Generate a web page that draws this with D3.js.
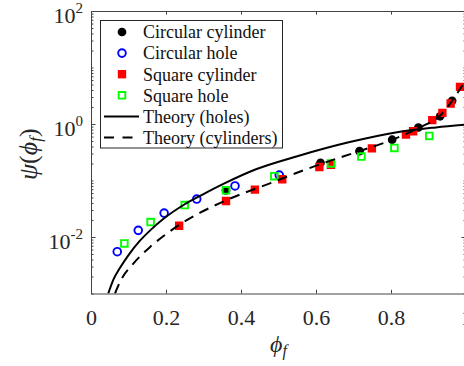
<!DOCTYPE html>
<html>
<head>
<meta charset="utf-8">
<script src="https://cdn.jsdelivr.net/npm/d3@7"></script>
<style>
body { margin: 0; background: #fff; }
svg { display: block; font-family: "Liberation Serif", "Times New Roman", serif; }
</style>
</head>
<body>
<div id="chart"></div>
<script>
// values
const phiTicks = [0, 0.2, 0.4, 0.6, 0.8, 1];
const psiMajor = [1e-2, 1, 1e2];
const psiLabels = ["10", "10", "10"];
const psiExps = ["-2", "0", "2"];

const circCylPhi = [0.360, 0.612, 0.716, 0.803, 0.873, 0.931, 0.963];
const circCylPsi = [0.067, 0.206, 0.33, 0.527, 0.867, 1.37, 2.57];

const circHolePhi = [0.070, 0.126, 0.195, 0.282, 0.384, 0.502];
const circHolePsi = [0.0055, 0.0131, 0.0265, 0.047, 0.080, 0.125];

const sqCylPhi = [0.235, 0.360, 0.437, 0.510, 0.609, 0.640, 0.749, 0.840, 0.859, 0.910, 0.937, 0.959, 0.984];
const sqCylPsi = [0.0158, 0.0433, 0.069, 0.105, 0.173, 0.19, 0.37, 0.65, 0.745, 1.17, 1.57, 2.31, 4.55];

const sqHolePhi = [0.089, 0.159, 0.250, 0.360, 0.489, 0.640, 0.721, 0.809, 0.902];
const sqHolePsi = [0.0077, 0.0184, 0.0368, 0.067, 0.119, 0.20, 0.265, 0.377, 0.615];

// theory curves, sampled by eye along the drawn lines
const holesPhi = [0.046, 0.06, 0.077, 0.10, 0.13, 0.16, 0.195, 0.25, 0.30, 0.353, 0.44, 0.55, 0.69, 0.82, 0.92, 1.0];
const holesPsi = [0.001, 0.00178, 0.00282, 0.00479, 0.00851, 0.0135, 0.0214, 0.038, 0.0575, 0.087, 0.158, 0.269, 0.479, 0.724, 0.871, 0.977];

const cylPhi = [0.064, 0.08, 0.113, 0.157, 0.202, 0.246, 0.291, 0.371, 0.477, 0.566, 0.612, 0.716, 0.803, 0.873, 0.931, 0.963, 0.991];
const cylPsi = [0.001, 0.00174, 0.00339, 0.00661, 0.01148, 0.0182, 0.0269, 0.0479, 0.0891, 0.151, 0.195, 0.331, 0.525, 0.851, 1.41, 2.57, 4.9];

const legendNames = ["Circular cylinder", "Circular hole", "Square cylinder", "Square hole", "Theory (holes)", "Theory (cylinders)"];

const width = 464, height = 366;
const plot = { left: 91, right: 466, top: 11, bottom: 293.5 };
const axisColor = "#444";
const textColor = "#262626";
const serifFont = '"Liberation Serif", "Times New Roman", serif';

const x = d3.scaleLinear().domain([0, 1]).range([plot.left, plot.right]);
const y = d3.scaleLog().domain([1e-3, 1e2]).range([plot.bottom, plot.top]);

const svg = d3.select("#chart").append("svg")
	.attr("width", width)
	.attr("height", height)
	.attr("font-family", serifFont);

svg.append("defs").append("clipPath").attr("id", "clip")
	.append("rect")
	.attr("x", plot.left).attr("y", plot.top)
	.attr("width", plot.right - plot.left)
	.attr("height", plot.bottom - plot.top);

// minor ticks of the log axis (everything that is not a labelled decade)
const minorTicks = y.ticks().filter(t => !psiMajor.some(m => Math.abs(m - t) / m < 1e-9));

const axes = svg.append("g").attr("color", axisColor);

// d3 puts sans-serif on every axis group, override it
const serif = g => g.attr("font-family", serifFont).attr("font-size", null);

axes.append("g")
	.attr("transform", `translate(0,${plot.bottom})`)
	.call(d3.axisBottom(x).tickValues(phiTicks).tickFormat(d => String(d))
		.tickSizeInner(-3.7).tickSizeOuter(0).tickPadding(15.5))
	.call(serif)
	.call(g => g.selectAll("text").attr("font-size", 22).attr("fill", textColor)
		.attr("font-family", serifFont));

axes.append("g")
	.attr("transform", `translate(0,${plot.top})`)
	.call(d3.axisTop(x).tickValues(phiTicks).tickFormat("")
		.tickSizeInner(-3.7).tickSizeOuter(0));

[["left", plot.left, d3.axisLeft], ["right", plot.right, d3.axisRight]].forEach(([side, px, axisFn]) => {
	axes.append("g")
		.attr("class", "y-" + side)
		.attr("transform", `translate(${px},0)`)
		.call(axisFn(y).tickValues(psiMajor).tickFormat("")
			.tickSizeInner(-4.5).tickSizeOuter(0))
		.call(serif);
	axes.append("g")
		.attr("transform", `translate(${px},0)`)
		.call(axisFn(y).tickValues(minorTicks).tickFormat("")
			.tickSizeInner(-2.5).tickSizeOuter(0))
		.call(g => g.select(".domain").remove());
});

// 10^k labels on the left axis
const lbl = axes.select(".y-left").selectAll(".tick")
	.append("text")
	.attr("x", -8)
	.attr("y", 11)
	.attr("text-anchor", "end")
	.attr("fill", textColor)
	.attr("font-family", serifFont)
	.attr("font-size", 22);
lbl.append("tspan").text((d, i) => psiLabels[i]);
lbl.append("tspan")
	.attr("dy", -10)
	.attr("font-size", 15)
	.text((d, i) => psiExps[i]);

// axis titles
const xt = svg.append("text")
	.attr("x", (plot.left + plot.right) / 2)
	.attr("y", 352)
	.attr("text-anchor", "middle")
	.attr("fill", textColor)
	.attr("font-style", "italic");
xt.append("tspan").attr("font-size", 24).text("ϕ");
xt.append("tspan").attr("font-size", 16).attr("dy", 4).text("f");

const yt = svg.append("text")
	.attr("transform", `translate(37,${(plot.top + plot.bottom) / 2 + 2}) rotate(-90)`)
	.attr("text-anchor", "middle")
	.attr("fill", textColor)
	.attr("font-size", 26);
yt.append("tspan").attr("font-style", "italic").text("ψ");
yt.append("tspan").text("(");
yt.append("tspan").attr("font-style", "italic").text("ϕ");
yt.append("tspan").attr("font-style", "italic").attr("font-size", 17).attr("dy", 4).text("f");
yt.append("tspan").attr("dy", -4).text(")");

// markers
const series = [
	{ phi: circCylPhi, psi: circCylPsi, type: d3.symbolCircle, size: 60, fill: "#000", stroke: "none" },
	{ phi: circHolePhi, psi: circHolePsi, type: d3.symbolCircle, size: 46, fill: "none", stroke: "#0000ff" },
	{ phi: sqCylPhi, psi: sqCylPsi, type: d3.symbolSquare, size: 70, fill: "#ff0000", stroke: "none" },
	{ phi: sqHolePhi, psi: sqHolePsi, type: d3.symbolSquare, size: 44, fill: "none", stroke: "#00ff00" }
];

const marks = svg.append("g").attr("clip-path", "url(#clip)");

series.forEach(s => {
	marks.append("g").selectAll("path")
		.data(d3.zip(s.phi, s.psi))
		.enter()
		.append("path")
		.attr("transform", d => `translate(${x(d[0])},${y(d[1])})`)
		.attr("d", d3.symbol().type(s.type).size(s.size))
		.attr("fill", s.fill)
		.attr("stroke", s.stroke)
		.attr("stroke-width", 1.9);
});

const line = d3.line()
	.x(d => x(d[0]))
	.y(d => y(d[1]))
	.curve(d3.curveMonotoneX);

marks.append("path")
	.datum(d3.zip(holesPhi, holesPsi))
	.attr("d", line)
	.attr("fill", "none")
	.attr("stroke", "#000")
	.attr("stroke-width", 2);

marks.append("path")
	.datum(d3.zip(cylPhi, cylPsi))
	.attr("d", line)
	.attr("fill", "none")
	.attr("stroke", "#000")
	.attr("stroke-width", 2)
	.attr("stroke-dasharray", "10,7");

// legend
const legend = svg.append("g").attr("transform", "translate(100.5,20.5)");
legend.append("rect")
	.attr("width", 182)
	.attr("height", 127.5)
	.attr("fill", "#fff")
	.attr("stroke", textColor)
	.attr("stroke-width", 1);

const rowY = i => 11.5 + i * 21.1;

legendNames.forEach((name, i) => {
	const row = legend.append("g").attr("transform", `translate(0,${rowY(i)})`);
	if (i < 4) {
		const s = series[i];
		row.append("path")
			.attr("transform", "translate(21.5,0)")
			.attr("d", d3.symbol().type(s.type).size(s.size))
			.attr("fill", s.fill)
			.attr("stroke", s.stroke)
			.attr("stroke-width", 1.9);
	} else {
		row.append("line")
			.attr("x1", 3.5).attr("x2", 38.5)
			.attr("stroke", "#000")
			.attr("stroke-width", 2)
			.attr("stroke-dasharray", i === 5 ? "10,8.5" : null);
	}
	row.append("text")
		.attr("x", 42.5)
		.attr("dy", "0.35em")
		.attr("font-size", 18)
		.attr("fill", "#111")
		.text(name);
});
</script>
</body>
</html>
